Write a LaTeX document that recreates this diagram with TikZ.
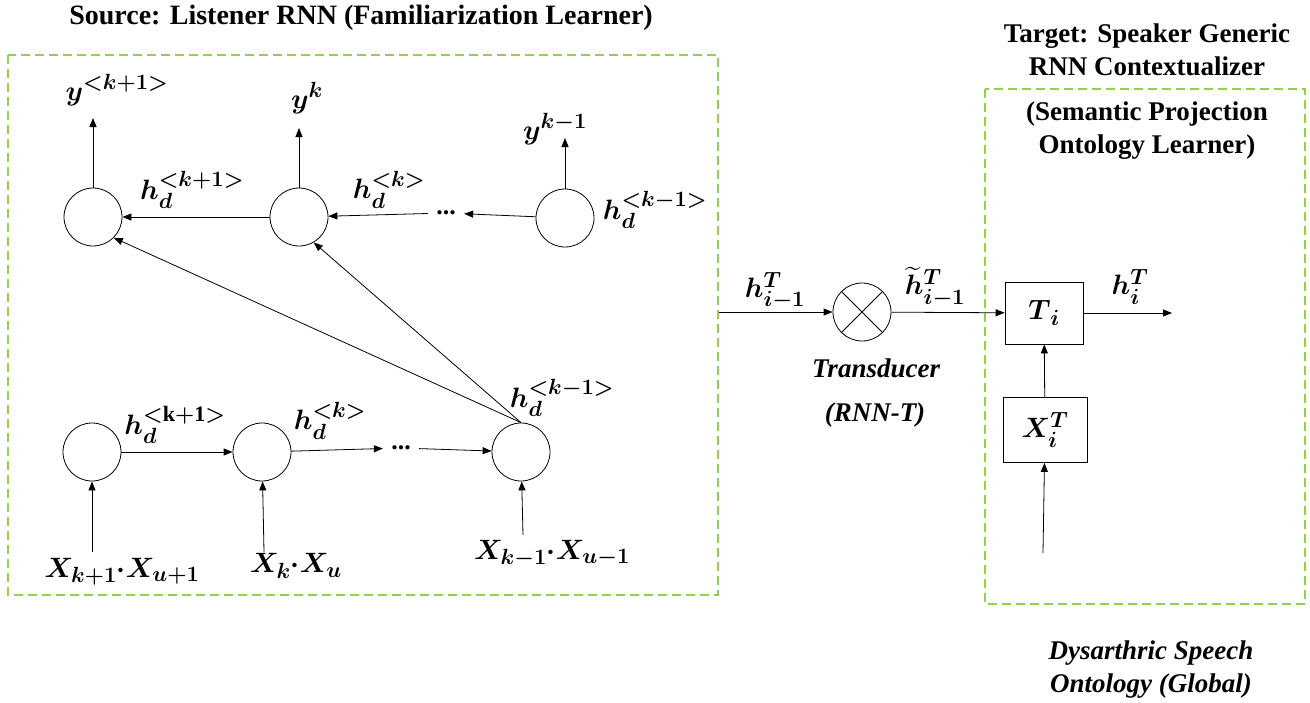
\RequirePackage{fix-cm}
\documentclass[tikz,border=0pt]{standalone}
\usepackage{amsmath, amssymb}
\usepackage{fontspec}
\setmainfont{Liberation Serif}
\usepackage{tikz}
\usetikzlibrary{arrows.meta}

\definecolor{verde}{RGB}{146,208,80}
\DeclareMathSizes{28}{28}{22}{17}

\begin{document}
\begin{tikzpicture}[x=1pt, y=-1pt, ->, >={Stealth[length=9pt, width=7pt, inset=0pt]}, line width=0.8pt,
        nodo/.style={circle, draw, minimum size=58pt, inner sep=0pt},
        caja/.style={rectangle, draw, minimum width=78pt, minimum height=62pt},
        etiq/.style={font=\fontsize{28}{30}\selectfont\boldmath, inner sep=0pt},
        titulo/.style={font=\fontsize{27}{33}\selectfont\bfseries, align=center},
        marco/.style={-, draw=verde, line width=2pt, dash pattern=on 9pt off 5pt},
        puntos/.style={font=\fontsize{26}{26}\selectfont\bfseries, inner sep=8pt}]
        \useasboundingbox (0,0) rectangle (1310,702);

        % Marcos
        \draw[marco] (8,55) rectangle (718,595);
        \draw[marco] (985,89) rectangle (1305,604);

        % Titulos
        \node[titulo, font=\fontsize{28}{33}\selectfont\bfseries] (tsrc) at (361,18) {Source: Listener RNN (Familiarization Learner)};
        \node[titulo] (ttgt) at (1147,50) {Target: Speaker Generic\\RNN Contextualizer};
        \node[titulo] (tsem) at (1147,131) {(Semantic Projection\\Ontology Learner)};
        \node[titulo, font=\fontsize{27}{33}\selectfont\bfseries\itshape] (tdys) at (1151,670) {Dysarthric Speech\\Ontology (Global)};

        % Nodos superiores
        \node[nodo] (t1) at (93,217) {};
        \node[nodo] (t2) at (299,217) {};
        \node[nodo] (t3) at (565,218) {};
        \node[puntos] (dt) at (446,213) {...};

        % Nodos inferiores
        \node[nodo] (b1) at (92,452) {};
        \node[nodo] (b2) at (262,452) {};
        \node[nodo] (b3) at (521,452) {};
        \node[puntos] (db) at (401,448) {...};

        % Salidas y
        \coordinate (y1) at (93,118);
        \coordinate (y2) at (299,128);
        \coordinate (y3) at (565,138);
        \node[etiq] (ly1) at (117,90) {$y^{<k+1>}$};
        \node[etiq] (ly2) at (307,98) {$y^{k}$};
        \node[etiq] (ly3) at (555,129) {$y^{k-1}$};
        \draw (t1) -- (y1);
        \draw (t2) -- (y2);
        \draw (t3) -- (y3);

        % Aristas superiores
        \draw (t2) -- (t1);
        \draw (dt) -- (t2);
        \draw (t3) -- (dt);
        \node[etiq] (lh1) at (192,190) {$h_d^{<k+1>}$};
        \node[etiq] (lh2) at (389,190) {$h_d^{<k>}$};
        \node[etiq] (lh3) at (655,210) {$h_d^{<k-1>}$};

        % Aristas inferiores
        \draw (b1) -- (b2);
        \draw (b2) -- (db);
        \draw (db) -- (b3);
        \node[etiq] (lg1) at (175,425) {$h_d^{<\mathrm{k+1}>}$};
        \node[etiq] (lg2) at (330,421) {$h_d^{<k>}$};
        \node[etiq] (lg3) at (562,398) {$h_d^{<k-1>}$};

        % Aristas diagonales
        \draw (b3.north) -- (t1.south east);
        \draw (b3.north) -- (t2.-60);

        % Entradas x
        \coordinate (x1) at (92,552);
        \coordinate (x2) at (264,552);
        \coordinate (x3) at (523,535);
        \draw (x1) -- (b1);
        \draw (x2) -- (b2);
        \draw (x3) -- (b3);
        \node[etiq] (lx1) at (122,572) {$X_{k+1}{\cdot}X_{u+1}$};
        \node[etiq] (lx2) at (296,566) {$X_{k}{\cdot}X_{u}$};
        \node[etiq] (lx3) at (552,554) {$X_{k-1}{\cdot}X_{u-1}$};

        % Transductor
        \coordinate (hin) at (719,312);
        \node[nodo] (m) at (862,312) {};
        \draw[-] (m.north east) -- (m.south west);
        \draw[-] (m.north west) -- (m.south east);
        \draw (hin) -- (m);
        \node[etiq] (lhin) at (775,291) {$h_{i-1}^{T}$};
        \node[etiq] (lhout) at (935,287) {$\widetilde{h}_{i-1}^{T}$};
        \node[font=\fontsize{27}{33}\selectfont\bfseries\itshape] (ltr) at (876,368) {Transducer};
        \node[font=\fontsize{27}{33}\selectfont\bfseries\itshape] (lrnn) at (875,415) {(RNN-T)};

        % Destino
        \node[caja, etiq] (ti) at (1044,313) {$T_{\,i}$};
        \node[caja, etiq, minimum width=84pt, minimum height=65pt] (xi) at (1045,430) {$X_i^{T}$};
        \coordinate (xin) at (1043,553);
        \coordinate (hout) at (1172,313);
        \draw (m) -- (ti);
        \draw (xi) -- (ti);
        \draw (xin) -- (xi);
        \draw (ti) -- (hout);
        \node[etiq] (lho) at (1130,287) {$h_i^{T}$};
    \end{tikzpicture}
\end{document}
